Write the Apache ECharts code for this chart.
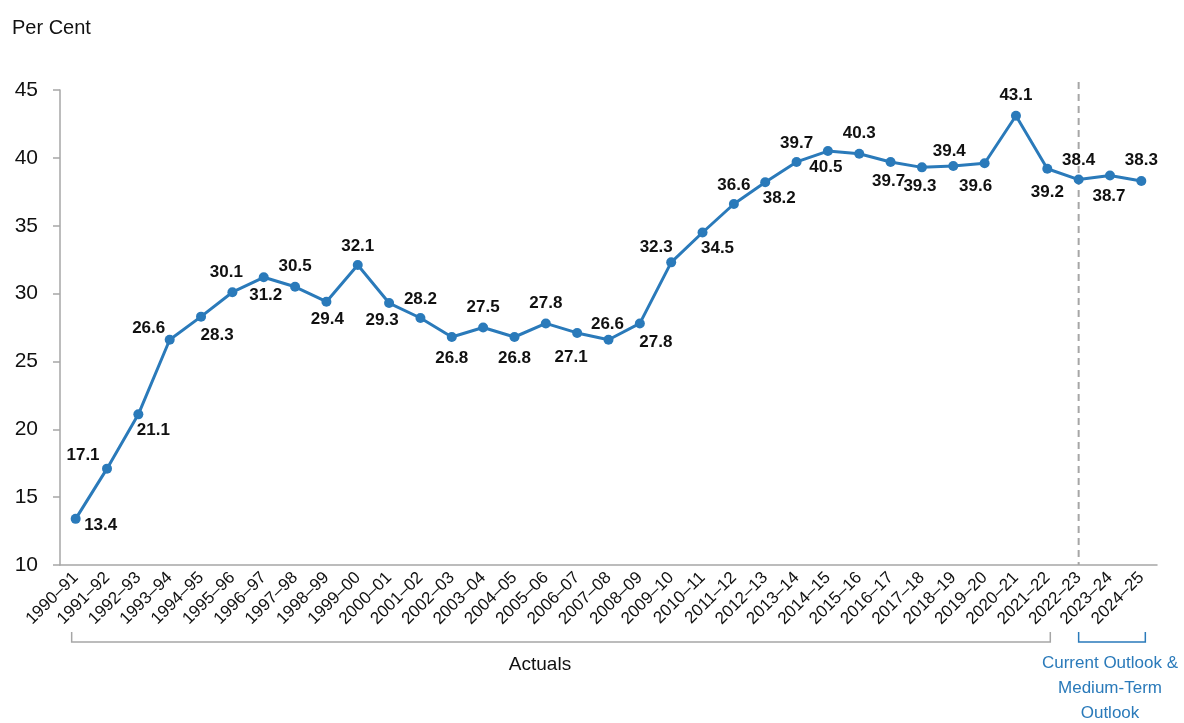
<!DOCTYPE html>
<html>
<head>
<meta charset="utf-8">
<title>Per Cent</title>
<script src="https://cdn.jsdelivr.net/npm/echarts@6/dist/echarts.min.js"></script>
<style>
  html, body { margin: 0; padding: 0; background: #fff; }
  #chart { width: 1184px; height: 723px; }
</style>
</head>
<body>
<div id="chart"></div>
<script>
// categories (fiscal years)
var years = ['1990–91', '1991–92', '1992–93', '1993–94', '1994–95', '1995–96', '1996–97',
    '1997–98', '1998–99', '1999–00', '2000–01', '2001–02', '2002–03', '2003–04', '2004–05',
    '2005–06', '2006–07', '2007–08', '2008–09', '2009–10', '2010–11', '2011–12', '2012–13',
    '2013–14', '2014–15', '2015–16', '2016–17', '2017–18', '2018–19', '2019–20', '2020–21',
    '2021–22', '2022–23', '2023–24', '2024–25'];

// per cent values
var values = [13.4, 17.1, 21.1, 26.6, 28.3, 30.1, 31.2, 30.5, 29.4, 32.1, 29.3, 28.2, 26.8,
    27.5, 26.8, 27.8, 27.1, 26.6, 27.8, 32.3, 34.5, 36.6, 38.2, 39.7, 40.5, 40.3, 39.7,
    39.3, 39.4, 39.6, 43.1, 39.2, 38.4, 38.7, 38.3];

var yTicks = [10, 15, 20, 25, 30, 35, 40, 45];

// where each value label sits relative to its point
var labelOffsets = [[25, 6], [-24, -13], [15, 16], [-21, -11], [16, 19], [-6, -20], [2, 18],
    [0, -20], [1, 18], [0, -19], [-7, 17], [0, -19], [0, 21], [0, -20], [0, 21], [0, -20],
    [-6, 24], [-1, -15], [16, 19], [-15, -15], [15, 16], [0, -19], [14, 16], [0, -19],
    [-2, 16], [0, -20], [-2, 19], [-2, 19], [-4, -15], [-9, 23], [0, -20], [0, 24],
    [0, -19], [-1, 21], [0, -21]];

var FONT = "'Liberation Sans', Arial, sans-serif";
var BLUE = '#2a7aba';
var GREY = '#a6a6a6';

var chart = echarts.init(document.getElementById('chart'));

var seriesData = [];
for (var i = 0; i < values.length; i++) {
    seriesData.push({
        value: values[i],
        label: { offset: labelOffsets[i] }
    });
}

var option = {
    animation: false,
    textStyle: { fontFamily: FONT },
    grid: { left: 60, right: 27, top: 90, bottom: 158 },
    xAxis: {
        type: 'category',
        data: years,
        boundaryGap: true,
        axisLine: { lineStyle: { color: GREY, width: 1.5 } },
        axisTick: { alignWithLabel: true, length: 5, lineStyle: { color: GREY, width: 1.5 } },
        axisLabel: {
            rotate: 45,
            interval: 0,
            margin: 10,
            color: '#111',
            fontSize: 17,
            fontFamily: FONT
        }
    },
    yAxis: {
        type: 'value',
        min: yTicks[0],
        max: yTicks[yTicks.length - 1],
        interval: 5,
        axisLine: { show: true, lineStyle: { color: GREY, width: 1.5 } },
        axisTick: { show: true, inside: false, length: 7, lineStyle: { color: GREY, width: 1.5 } },
        splitLine: { show: false },
        axisLabel: { color: '#111', fontSize: 21, margin: 22, fontFamily: FONT }
    },
    series: [{
        type: 'line',
        data: seriesData,
        symbol: 'circle',
        symbolSize: 10,
        itemStyle: { color: BLUE },
        lineStyle: { color: BLUE, width: 3 },
        label: {
            show: true,
            position: 'inside',
            color: '#111',
            fontWeight: 'bold',
            fontSize: 17,
            fontFamily: FONT,
            formatter: function (p) { return p.value.toFixed(1); }
        }
    }],
    graphic: []
};

chart.setOption(option);

// annotations positioned from the axis scale
var px = function (cat, v) { return chart.convertToPixel({ gridIndex: 0 }, [cat, v]); };
var first = px(years[0], 10);
var lastActual = px('2021–22', 10);
var outlookStart = px('2022–23', 10);
var lastYear = px(years[years.length - 1], 10);
var top45 = px('2022–23', 45);

var bracketY = 642;
var bracketTop = 632;

chart.setOption({
    graphic: [
        {
            type: 'text', left: 12, top: 18,
            style: { text: 'Per Cent', font: "20px " + FONT, fill: '#111' }
        },
        {
            type: 'line',
            shape: { x1: outlookStart[0], y1: top45[1] - 8, x2: outlookStart[0], y2: outlookStart[1] },
            style: { stroke: GREY, lineWidth: 2, lineDash: [7, 5] },
            z: 1
        },
        {
            type: 'polyline',
            shape: { points: [[first[0] - 4, bracketTop], [first[0] - 4, bracketY], [lastActual[0] + 3, bracketY], [lastActual[0] + 3, bracketTop]] },
            style: { stroke: GREY, lineWidth: 1.5, fill: null }
        },
        {
            type: 'text',
            x: 540, y: 665,
            style: { text: 'Actuals', font: "19px " + FONT, fill: '#111', align: 'center', verticalAlign: 'middle' }
        },
        {
            type: 'polyline',
            shape: { points: [[outlookStart[0], bracketTop], [outlookStart[0], bracketY], [lastYear[0] + 4, bracketY], [lastYear[0] + 4, bracketTop]] },
            style: { stroke: BLUE, lineWidth: 1.5, fill: null }
        },
        {
            type: 'text',
            x: 1110, y: 688,
            style: {
                text: 'Current Outlook &\nMedium-Term\nOutlook',
                font: "17px " + FONT, fill: BLUE, align: 'center', verticalAlign: 'middle', lineHeight: 25
            }
        }
    ]
});
</script>
</body>
</html>
